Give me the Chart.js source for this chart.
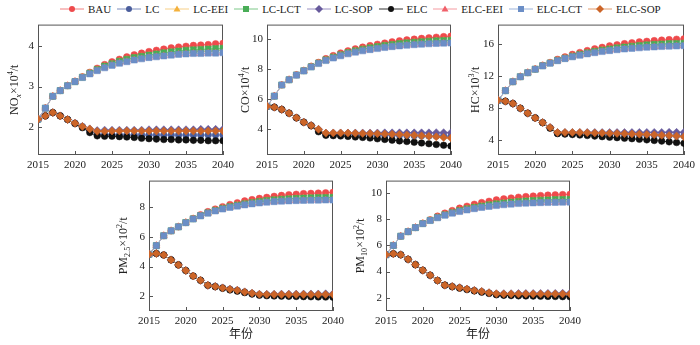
<!DOCTYPE html>
<html>
<head>
<meta charset="utf-8">
<script src="https://cdn.jsdelivr.net/npm/chart.js@4.4.0/dist/chart.umd.min.js"></script>
<style>
  body { margin: 0; width: 700px; height: 345px; background: #fff; position: relative; overflow: hidden; font-family: "Liberation Serif", serif; }
  canvas { position: absolute; }
  #legend { position: absolute; top: 2px; left: 60px; display: flex; align-items: center; font-size: 11px; color: #222; height: 14px; }
  .item { display: flex; align-items: center; margin-right: 6px; }
  .item svg { margin-right: 4px; }
</style>
</head>
<body>
<div id="legend"></div>
<canvas id="nox"></canvas>
<canvas id="co"></canvas>
<canvas id="hc"></canvas>
<canvas id="pm25"></canvas>
<canvas id="pm10"></canvas>
<script>
// ---------------- data ----------------
const years = [2015, 2016, 2017, 2018, 2019, 2020, 2021, 2022, 2023, 2024, 2025, 2026, 2027,
  2028, 2029, 2030, 2031, 2032, 2033, 2034, 2035, 2036, 2037, 2038, 2039, 2040];
const scenarios = ['BAU', 'LC', 'LC-EEI', 'LC-LCT', 'LC-SOP', 'ELC', 'ELC-EEI', 'ELC-LCT', 'ELC-SOP'];

const xTicks = [2015, 2020, 2025, 2030, 2035, 2040];
const noxTicks = [2, 3, 4];
const coTicks = [4, 6, 8, 10];
const hcTicks = [4, 8, 12, 16];
const pm25Ticks = [2, 4, 6, 8];
const pm10Ticks = [2, 4, 6, 8, 10];

// NOx (10^4 t)
const noxBAU = [2.20, 2.47, 2.76, 2.90, 3.02, 3.13, 3.24, 3.35, 3.45, 3.54, 3.61, 3.67, 3.73, 3.78, 3.82, 3.86, 3.89, 3.92, 3.95, 3.97, 3.99, 4.01, 4.02, 4.03, 4.05, 4.06];
const noxLC = [2.20, 2.28, 2.36, 2.28, 2.19, 2.10, 2.02, 1.92, 1.82, 1.82, 1.82, 1.81, 1.81, 1.81, 1.81, 1.81, 1.81, 1.81, 1.81, 1.81, 1.81, 1.81, 1.81, 1.81, 1.81, 1.81];
const noxLCEEI = [2.20, 2.47, 2.76, 2.90, 3.02, 3.12, 3.23, 3.33, 3.41, 3.49, 3.55, 3.61, 3.66, 3.70, 3.73, 3.76, 3.79, 3.82, 3.84, 3.86, 3.88, 3.89, 3.90, 3.91, 3.92, 3.93];
const noxLCLCT = [2.20, 2.47, 2.76, 2.90, 3.02, 3.12, 3.23, 3.33, 3.42, 3.50, 3.56, 3.62, 3.67, 3.71, 3.74, 3.77, 3.80, 3.83, 3.85, 3.87, 3.89, 3.90, 3.91, 3.92, 3.93, 3.94];
const noxLCSOP = [2.20, 2.28, 2.36, 2.28, 2.19, 2.10, 2.02, 1.96, 1.92, 1.93, 1.93, 1.93, 1.93, 1.93, 1.93, 1.94, 1.94, 1.94, 1.94, 1.94, 1.94, 1.94, 1.95, 1.95, 1.95, 1.95];
const noxELC = [2.20, 2.28, 2.36, 2.28, 2.19, 2.09, 1.99, 1.87, 1.79, 1.78, 1.78, 1.77, 1.76, 1.75, 1.73, 1.72, 1.71, 1.70, 1.70, 1.69, 1.69, 1.68, 1.68, 1.67, 1.67, 1.67];
const noxELCEEI = [2.20, 2.47, 2.76, 2.90, 3.02, 3.12, 3.22, 3.31, 3.39, 3.46, 3.52, 3.57, 3.61, 3.65, 3.68, 3.71, 3.73, 3.75, 3.77, 3.79, 3.80, 3.81, 3.81, 3.82, 3.82, 3.83];
const noxELCLCT = [2.20, 2.47, 2.76, 2.90, 3.02, 3.12, 3.22, 3.31, 3.39, 3.46, 3.52, 3.57, 3.61, 3.65, 3.68, 3.71, 3.73, 3.75, 3.77, 3.79, 3.80, 3.81, 3.81, 3.82, 3.82, 3.83];
const noxELCSOP = [2.20, 2.28, 2.36, 2.28, 2.19, 2.10, 2.02, 1.96, 1.90, 1.90, 1.91, 1.91, 1.91, 1.91, 1.91, 1.91, 1.91, 1.91, 1.91, 1.91, 1.91, 1.91, 1.91, 1.91, 1.91, 1.91];

// CO (10^4 t)
const coBAU = [5.50, 6.18, 6.92, 7.27, 7.60, 7.88, 8.17, 8.43, 8.68, 8.88, 9.06, 9.20, 9.33, 9.45, 9.55, 9.64, 9.72, 9.80, 9.87, 9.93, 9.98, 10.03, 10.07, 10.11, 10.15, 10.18];
const coLC = [5.50, 5.44, 5.29, 5.04, 4.73, 4.44, 4.22, 3.88, 3.63, 3.62, 3.62, 3.61, 3.60, 3.60, 3.59, 3.58, 3.57, 3.57, 3.56, 3.55, 3.54, 3.53, 3.52, 3.52, 3.51, 3.50];
const coLCEEI = [5.50, 6.18, 6.92, 7.27, 7.59, 7.87, 8.14, 8.38, 8.59, 8.77, 8.93, 9.07, 9.19, 9.29, 9.38, 9.46, 9.54, 9.60, 9.66, 9.71, 9.75, 9.79, 9.82, 9.85, 9.87, 9.89];
const coLCLCT = [5.50, 6.18, 6.92, 7.27, 7.59, 7.87, 8.14, 8.39, 8.60, 8.78, 8.94, 9.08, 9.20, 9.31, 9.40, 9.48, 9.56, 9.62, 9.68, 9.73, 9.77, 9.81, 9.84, 9.87, 9.89, 9.91];
const coLCSOP = [5.50, 5.44, 5.29, 5.04, 4.73, 4.44, 4.22, 3.96, 3.71, 3.72, 3.72, 3.72, 3.72, 3.72, 3.72, 3.72, 3.73, 3.73, 3.73, 3.73, 3.73, 3.73, 3.73, 3.74, 3.74, 3.74];
const coELC = [5.50, 5.44, 5.29, 5.04, 4.73, 4.44, 4.20, 3.80, 3.56, 3.54, 3.52, 3.49, 3.45, 3.42, 3.38, 3.33, 3.29, 3.24, 3.19, 3.15, 3.10, 3.05, 3.00, 2.95, 2.90, 2.85];
const coELCEEI = [5.50, 6.18, 6.92, 7.27, 7.58, 7.86, 8.12, 8.35, 8.55, 8.72, 8.87, 9.00, 9.11, 9.20, 9.28, 9.35, 9.42, 9.48, 9.53, 9.57, 9.61, 9.64, 9.67, 9.69, 9.71, 9.72];
const coELCLCT = [5.50, 6.18, 6.92, 7.27, 7.58, 7.86, 8.12, 8.35, 8.55, 8.72, 8.87, 9.00, 9.11, 9.20, 9.28, 9.35, 9.42, 9.48, 9.53, 9.57, 9.61, 9.64, 9.67, 9.69, 9.71, 9.72];
const coELCSOP = [5.50, 5.44, 5.29, 5.04, 4.73, 4.44, 4.22, 3.96, 3.71, 3.72, 3.72, 3.71, 3.70, 3.69, 3.68, 3.67, 3.65, 3.63, 3.61, 3.59, 3.56, 3.53, 3.50, 3.46, 3.42, 3.38];

// HC (10^3 t)
const hcBAU = [8.95, 10.17, 11.29, 11.92, 12.42, 12.87, 13.35, 13.70, 14.10, 14.40, 14.72, 14.96, 15.20, 15.42, 15.60, 15.78, 15.93, 16.06, 16.18, 16.28, 16.36, 16.44, 16.51, 16.57, 16.62, 16.66];
const hcLC = [8.95, 8.84, 8.55, 7.96, 7.34, 6.75, 6.17, 5.52, 4.82, 4.80, 4.79, 4.77, 4.76, 4.74, 4.72, 4.70, 4.69, 4.67, 4.65, 4.63, 4.61, 4.59, 4.57, 4.55, 4.53, 4.51];
const hcLCEEI = [8.95, 10.17, 11.29, 11.92, 12.42, 12.86, 13.30, 13.63, 13.96, 14.23, 14.47, 14.69, 14.89, 15.06, 15.22, 15.36, 15.48, 15.59, 15.69, 15.78, 15.85, 15.91, 15.96, 16.00, 16.03, 16.06];
const hcLCLCT = [8.95, 10.17, 11.29, 11.92, 12.42, 12.86, 13.30, 13.64, 13.98, 14.25, 14.50, 14.72, 14.92, 15.10, 15.26, 15.40, 15.53, 15.64, 15.74, 15.83, 15.91, 15.97, 16.02, 16.06, 16.09, 16.12];
const hcLCSOP = [8.95, 8.84, 8.55, 7.96, 7.34, 6.75, 6.17, 5.55, 4.92, 4.92, 4.92, 4.92, 4.92, 4.92, 4.92, 4.92, 4.92, 4.92, 4.92, 4.93, 4.93, 4.93, 4.93, 4.94, 4.94, 4.94];
const hcELC = [8.95, 8.84, 8.55, 7.96, 7.34, 6.75, 6.15, 5.45, 4.78, 4.72, 4.66, 4.60, 4.54, 4.47, 4.40, 4.33, 4.27, 4.20, 4.14, 4.07, 4.00, 3.92, 3.84, 3.75, 3.66, 3.56];
const hcELCEEI = [8.95, 10.17, 11.29, 11.92, 12.42, 12.85, 13.27, 13.60, 13.92, 14.18, 14.41, 14.60, 14.78, 14.93, 15.07, 15.19, 15.30, 15.39, 15.47, 15.54, 15.60, 15.65, 15.70, 15.74, 15.77, 15.80];
const hcELCLCT = [8.95, 10.17, 11.29, 11.92, 12.42, 12.85, 13.27, 13.60, 13.92, 14.18, 14.41, 14.60, 14.78, 14.93, 15.07, 15.19, 15.30, 15.39, 15.47, 15.54, 15.60, 15.65, 15.70, 15.74, 15.77, 15.80];
const hcELCSOP = [8.95, 8.84, 8.55, 7.96, 7.34, 6.75, 6.17, 5.55, 4.92, 4.92, 4.92, 4.91, 4.89, 4.87, 4.85, 4.82, 4.80, 4.77, 4.74, 4.71, 4.67, 4.63, 4.58, 4.53, 4.47, 4.40];

// PM2.5 (10^2 t)
const pm25BAU = [4.83, 5.41, 6.08, 6.41, 6.68, 6.97, 7.24, 7.50, 7.71, 7.88, 8.04, 8.19, 8.31, 8.43, 8.52, 8.60, 8.67, 8.74, 8.80, 8.85, 8.88, 8.92, 8.94, 8.96, 8.98, 9.01];
const pm25LC = [4.83, 4.88, 4.78, 4.45, 4.11, 3.73, 3.36, 3.07, 2.73, 2.66, 2.56, 2.47, 2.39, 2.28, 2.18, 2.10, 2.07, 2.06, 2.06, 2.05, 2.05, 2.05, 2.04, 2.04, 2.04, 2.03];
const pm25LCEEI = [4.83, 5.41, 6.08, 6.41, 6.68, 6.97, 7.22, 7.43, 7.62, 7.78, 7.92, 8.04, 8.14, 8.23, 8.31, 8.37, 8.43, 8.48, 8.52, 8.55, 8.58, 8.60, 8.62, 8.63, 8.64, 8.65];
const pm25LCLCT = [4.83, 5.41, 6.08, 6.41, 6.68, 6.97, 7.22, 7.44, 7.63, 7.79, 7.93, 8.05, 8.15, 8.24, 8.32, 8.39, 8.45, 8.50, 8.54, 8.57, 8.60, 8.62, 8.64, 8.65, 8.66, 8.67];
const pm25LCSOP = [4.83, 4.88, 4.78, 4.45, 4.11, 3.73, 3.36, 3.07, 2.73, 2.66, 2.56, 2.47, 2.40, 2.29, 2.20, 2.13, 2.13, 2.13, 2.14, 2.14, 2.14, 2.15, 2.15, 2.15, 2.16, 2.16];
const pm25ELC = [4.83, 4.88, 4.78, 4.45, 4.11, 3.73, 3.36, 3.07, 2.73, 2.64, 2.53, 2.42, 2.34, 2.24, 2.14, 2.06, 2.03, 2.01, 2.00, 1.99, 1.98, 1.97, 1.96, 1.95, 1.94, 1.93];
const pm25ELCEEI = [4.83, 5.41, 6.08, 6.41, 6.68, 6.96, 7.21, 7.42, 7.60, 7.75, 7.88, 7.99, 8.08, 8.16, 8.23, 8.29, 8.34, 8.38, 8.41, 8.43, 8.45, 8.46, 8.47, 8.48, 8.49, 8.49];
const pm25ELCLCT = [4.83, 5.41, 6.08, 6.41, 6.68, 6.96, 7.21, 7.42, 7.60, 7.75, 7.88, 7.99, 8.08, 8.16, 8.23, 8.29, 8.34, 8.38, 8.41, 8.43, 8.45, 8.46, 8.47, 8.48, 8.49, 8.49];
const pm25ELCSOP = [4.83, 4.88, 4.78, 4.45, 4.11, 3.73, 3.36, 3.07, 2.73, 2.66, 2.56, 2.47, 2.40, 2.29, 2.20, 2.13, 2.12, 2.12, 2.12, 2.12, 2.12, 2.12, 2.12, 2.12, 2.12, 2.12];

// PM10 (10^2 t)
const pm10BAU = [5.29, 6.00, 6.71, 7.06, 7.37, 7.70, 7.97, 8.25, 8.48, 8.68, 8.86, 9.01, 9.16, 9.29, 9.39, 9.49, 9.57, 9.64, 9.70, 9.75, 9.79, 9.83, 9.86, 9.88, 9.90, 9.92];
const pm10LC = [5.29, 5.37, 5.29, 4.94, 4.53, 4.10, 3.72, 3.32, 2.96, 2.86, 2.76, 2.65, 2.55, 2.46, 2.35, 2.25, 2.22, 2.22, 2.21, 2.21, 2.21, 2.20, 2.20, 2.20, 2.19, 2.19];
const pm10LCEEI = [5.29, 6.00, 6.71, 7.06, 7.37, 7.68, 7.93, 8.15, 8.35, 8.52, 8.67, 8.80, 8.91, 9.01, 9.10, 9.17, 9.24, 9.30, 9.35, 9.39, 9.42, 9.45, 9.47, 9.49, 9.50, 9.51];
const pm10LCLCT = [5.29, 6.00, 6.71, 7.06, 7.37, 7.68, 7.93, 8.16, 8.36, 8.53, 8.68, 8.81, 8.92, 9.02, 9.11, 9.19, 9.26, 9.32, 9.37, 9.41, 9.44, 9.47, 9.49, 9.51, 9.52, 9.53];
const pm10LCSOP = [5.29, 5.37, 5.29, 4.94, 4.53, 4.10, 3.72, 3.32, 2.96, 2.86, 2.76, 2.66, 2.56, 2.48, 2.38, 2.30, 2.31, 2.31, 2.32, 2.32, 2.32, 2.33, 2.33, 2.33, 2.34, 2.34];
const pm10ELC = [5.29, 5.37, 5.29, 4.94, 4.53, 4.10, 3.72, 3.32, 2.96, 2.84, 2.73, 2.62, 2.52, 2.42, 2.32, 2.22, 2.18, 2.16, 2.14, 2.13, 2.12, 2.11, 2.10, 2.09, 2.08, 2.07];
const pm10ELCEEI = [5.29, 6.00, 6.71, 7.06, 7.37, 7.67, 7.91, 8.12, 8.31, 8.47, 8.60, 8.72, 8.82, 8.91, 8.99, 9.06, 9.12, 9.17, 9.21, 9.24, 9.26, 9.28, 9.29, 9.30, 9.31, 9.32];
const pm10ELCLCT = [5.29, 6.00, 6.71, 7.06, 7.37, 7.67, 7.91, 8.12, 8.31, 8.47, 8.60, 8.72, 8.82, 8.91, 8.99, 9.06, 9.12, 9.17, 9.21, 9.24, 9.26, 9.28, 9.29, 9.30, 9.31, 9.32];
const pm10ELCSOP = [5.29, 5.37, 5.29, 4.94, 4.53, 4.10, 3.72, 3.32, 2.96, 2.86, 2.76, 2.66, 2.56, 2.48, 2.38, 2.30, 2.29, 2.29, 2.29, 2.29, 2.29, 2.29, 2.29, 2.29, 2.29, 2.29];

// ---------------- styles ----------------
const seriesStyle = {
  'BAU':     { color: '#ee4a4c', line: '#f08080', point: 'circle',   r: 3.3 },
  'LC':      { color: '#4a5d9c', line: '#7d8cbc', point: 'circle',   r: 3.3 },
  'LC-EEI':  { color: '#f4b13c', line: '#f7cf86', point: 'triangle', r: 4 },
  'LC-LCT':  { color: '#49ad57', line: '#7cc888', point: 'rect',     r: 4.3 },
  'LC-SOP':  { color: '#675a9c', line: '#9a90c2', point: 'rectRot',  r: 4 },
  'ELC':     { color: '#111111', line: '#333333', point: 'circle',   r: 3.3 },
  'ELC-EEI': { color: '#f0606a', line: '#f59aa0', point: 'triangle', r: 4 },
  'ELC-LCT': { color: '#6b8ec6', line: '#9bb3da', point: 'rect',     r: 4.3 },
  'ELC-SOP': { color: '#cc6528', line: '#e09a6c', point: 'rectRot',  r: 4 }
};

const tickFont = { family: '"Liberation Serif", serif', size: 11 };
const tickColor = '#222';

// ---------------- legend ----------------
const legendBox = document.getElementById('legend');
scenarios.forEach(name => {
  const s = seriesStyle[name];
  let mark = '';
  if (s.point === 'circle') mark = `<circle cx="12" cy="5" r="3" fill="${s.color}"/>`;
  if (s.point === 'triangle') mark = `<polygon points="12,1.5 15.5,7.5 8.5,7.5" fill="${s.color}"/>`;
  if (s.point === 'rect') mark = `<rect x="9" y="2" width="6" height="6" fill="${s.color}"/>`;
  if (s.point === 'rectRot') mark = `<polygon points="12,1 16,5 12,9 8,5" fill="${s.color}"/>`;
  const item = document.createElement('div');
  item.className = 'item';
  item.innerHTML = `<svg width="24" height="10"><line x1="0" y1="5" x2="24" y2="5" stroke="${s.line}" stroke-width="1"/>${mark}</svg><span>${name}</span>`;
  legendBox.appendChild(item);
});

// ---------------- frame, inward ticks and titles ----------------
function drawRich(ctx, segs, cx, cy, size) {
  ctx.save();
  ctx.translate(cx, cy);
  ctx.rotate(-Math.PI / 2);
  ctx.fillStyle = '#222';
  ctx.textBaseline = 'alphabetic';
  const fontOf = seg => {
    const small = seg[1] ? size * 0.68 : size;
    return `${seg[2] ? 'italic ' : ''}${small}px "Liberation Serif"`;
  };
  let total = 0;
  segs.forEach(seg => { ctx.font = fontOf(seg); total += ctx.measureText(seg[0]).width; });
  let x = -total / 2;
  segs.forEach(seg => {
    ctx.font = fontOf(seg);
    const dy = seg[1] === 'sub' ? 3 : seg[1] === 'sup' ? -5 : 0;
    ctx.fillText(seg[0], x, size * 0.35 + dy);
    x += ctx.measureText(seg[0]).width;
  });
  ctx.restore();
}

const panelDecor = {
  id: 'panelDecor',
  beforeDatasetsDraw(chart) {
    const { ctx, chartArea: a, scales } = chart;
    ctx.save();
    ctx.strokeStyle = '#555';
    ctx.lineWidth = 1;
    ctx.strokeRect(a.left + 0.5, a.top + 0.5, a.width - 1, a.height - 1);
    ctx.beginPath();
    scales.x.ticks.forEach(t => {
      const px = Math.round(scales.x.getPixelForValue(t.value)) + 0.5;
      ctx.moveTo(px, a.bottom);
      ctx.lineTo(px, a.bottom - 4);
    });
    scales.y.ticks.forEach(t => {
      const py = Math.round(scales.y.getPixelForValue(t.value)) + 0.5;
      ctx.moveTo(a.left, py);
      ctx.lineTo(a.left + 4, py);
    });
    ctx.stroke();
    ctx.restore();
  },
  afterDraw(chart, args, opts) {
    const { ctx, chartArea: a } = chart;
    drawRich(ctx, opts.yTitle, opts.yTitleX, (a.top + a.bottom) / 2, 12);
    if (opts.xTitle) {
      ctx.save();
      ctx.fillStyle = '#222';
      ctx.font = '12px "Noto Sans CJK SC"';
      ctx.textAlign = 'center';
      ctx.textBaseline = 'middle';
      ctx.fillText(opts.xTitle, (a.left + a.right) / 2, opts.xTitleY);
      ctx.restore();
    }
  }
};

// ---------------- panels ----------------
const panels = [
  { id: 'nox', box: [38, 23, 225, 155], at: [0, 14], w: 238, h: 164, yMin: 1.32, yMax: 4.52, yTicks: noxTicks,
    series: [noxBAU, noxLC, noxLCEEI, noxLCLCT, noxLCSOP, noxELC, noxELCEEI, noxELCLCT, noxELCSOP],
    yTitle: [['NO'], ['x', 'sub', true], ['×10'], ['4', 'sup'], ['/t']], yTitleX: 14 },
  { id: 'co', box: [267, 24, 453, 155], at: [232, 14], w: 234, h: 164, yMin: 2.25, yMax: 10.95, yTicks: coTicks,
    series: [coBAU, coLC, coLCEEI, coLCLCT, coLCSOP, coELC, coELCEEI, coELCLCT, coELCSOP],
    yTitle: [['CO×10'], ['4', 'sup'], ['/t']], yTitleX: 13 },
  { id: 'hc', box: [498, 24, 684, 155], at: [466, 14], w: 234, h: 164, yMin: 2.1, yMax: 18.45, yTicks: hcTicks,
    series: [hcBAU, hcLC, hcLCEEI, hcLCLCT, hcLCSOP, hcELC, hcELCEEI, hcELCLCT, hcELCSOP],
    yTitle: [['HC×10'], ['3', 'sup'], ['/t']], yTitleX: 9 },
  { id: 'pm25', box: [149, 179, 335, 311], at: [100, 170], w: 248, h: 175, yMin: 1.0, yMax: 9.8, yTicks: pm25Ticks,
    series: [pm25BAU, pm25LC, pm25LCEEI, pm25LCLCT, pm25LCSOP, pm25ELC, pm25ELCEEI, pm25ELCLCT, pm25ELCSOP],
    yTitle: [['PM'], ['2.5', 'sub'], ['×10'], ['2', 'sup'], ['/t']], yTitleX: 23, xTitle: '年份' },
  { id: 'pm10', box: [386, 179, 572, 311], at: [340, 170], w: 245, h: 175, yMin: 0.98, yMax: 10.97, yTicks: pm10Ticks,
    series: [pm10BAU, pm10LC, pm10LCEEI, pm10LCLCT, pm10LCSOP, pm10ELC, pm10ELCEEI, pm10ELCLCT, pm10ELCSOP],
    yTitle: [['PM'], ['10', 'sub'], ['×10'], ['2', 'sup'], ['/t']], yTitleX: 20, xTitle: '年份' }
];

panels.forEach(p => {
  const canvas = document.getElementById(p.id);
  canvas.width = p.w;
  canvas.height = p.h;
  canvas.style.left = p.at[0] + 'px';
  canvas.style.top = p.at[1] + 'px';

  const [l, t, r, b] = p.box;
  const yAxisWidth = l - p.at[0];
  const xAxisHeight = p.at[1] + p.h - b;

  const datasets = scenarios.map((name, i) => {
    const s = seriesStyle[name];
    return {
      label: name,
      data: years.map((yr, k) => ({ x: yr, y: p.series[i][k] })),
      borderColor: s.line,
      borderWidth: 1,
      pointStyle: s.point,
      pointRadius: s.r,
      pointBackgroundColor: s.color,
      pointBorderColor: s.color,
      pointBorderWidth: 0.5,
      order: -i   // later scenarios sit on top
    };
  });

  new Chart(canvas, {
    type: 'line',
    data: { datasets },
    plugins: [panelDecor],
    options: {
      responsive: false,
      animation: false,
      layout: { padding: { top: t - p.at[1], right: p.at[0] + p.w - r, bottom: 0, left: 0 } },
      plugins: {
        legend: { display: false },
        tooltip: { enabled: false },
        panelDecor: { yTitle: p.yTitle, yTitleX: p.yTitleX, xTitle: p.xTitle, xTitleY: 333 - p.at[1] }
      },
      scales: {
        x: {
          type: 'linear', min: 2015, max: 2040,
          grid: { display: false, drawTicks: false }, border: { display: false },
          afterBuildTicks: s => { s.ticks = xTicks.map(v => ({ value: v })); },
          afterFit: s => { s.height = xAxisHeight; },
          ticks: { font: tickFont, color: tickColor, padding: 4, maxRotation: 0, callback: v => String(v) }
        },
        y: {
          min: p.yMin, max: p.yMax,
          grid: { display: false, drawTicks: false }, border: { display: false },
          afterBuildTicks: s => { s.ticks = p.yTicks.map(v => ({ value: v })); },
          afterFit: s => { s.width = yAxisWidth; },
          ticks: { font: tickFont, color: tickColor, padding: 4, callback: v => String(v) }
        }
      }
    }
  });
});
</script>
</body>
</html>
